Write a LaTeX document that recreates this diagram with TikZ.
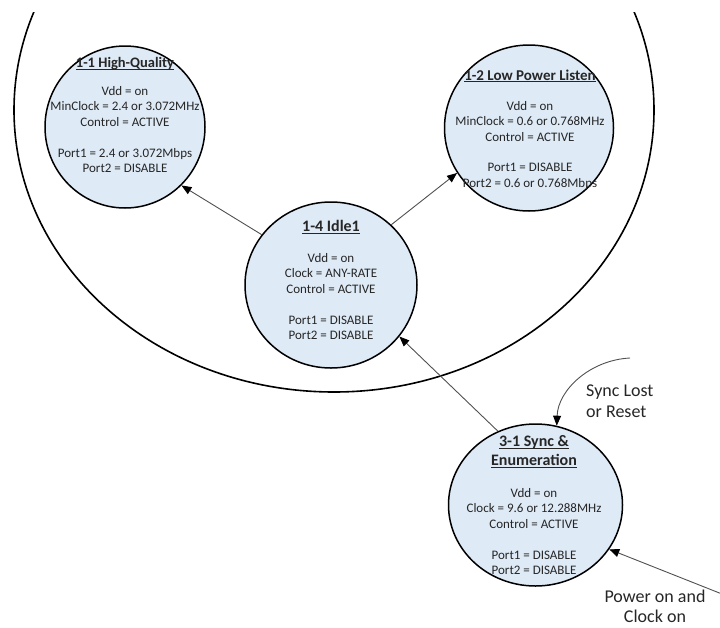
\documentclass[tikz,border=0pt]{standalone}
\usepackage{fontspec}
\setmainfont{Carlito}
\usetikzlibrary{shapes.geometric,arrows.meta}
\definecolor{statefill}{HTML}{DEEAF6}
\definecolor{txt}{HTML}{262626}
\definecolor{connc}{HTML}{505050}
\newsavebox{\tulbox}
\newcommand{\titleul}[2]{{\fontsize{#1}{#1}\selectfont\bfseries\sbox{\tulbox}{#2}\rlap{\rule[-2.2pt]{\wd\tulbox}{1.1pt}}\usebox{\tulbox}}}
\begin{document}
\begin{tikzpicture}[x=1pt,y=-1pt,
  state/.style={draw=black, line width=1.5pt, fill=statefill, ellipse, inner sep=0pt},
  stext/.style={align=center, text=txt, font=\fontsize{13}{15.4}\selectfont, inner sep=0pt},
  conn/.style={draw=connc, line width=0.9pt, -{Triangle[length=10pt,width=8pt,color=black]}},
  lbl/.style={text=txt, font=\fontsize{18}{21}\selectfont, inner sep=0pt},
  group/.style={draw=black, line width=1.6pt, ellipse, inner sep=0pt}
]
\useasboundingbox (0,0) rectangle (720,627);
\begin{scope}
  \clip (0,12) rectangle (720,627);
  \node[group, minimum width=640pt, minimum height=564pt] (grp) at (334,110) {};
\end{scope}

\node[state, minimum width=160pt, minimum height=162pt] (hq) at (125,127) {};
\node[state, minimum width=169pt, minimum height=166pt] (lp) at (529,128) {};
\node[state, minimum width=172pt, minimum height=166pt] (idle) at (331,285) {};
\node[state, minimum width=174pt, minimum height=162pt] (sync) at (535.5,505) {};

\node[stext] (hqt) at (125,115) {\titleul{14.5pt}{1-1 High-Quality}\\[12.6pt]
  Vdd = on\\ MinClock = 2.4 or 3.072MHz\\ Control = ACTIVE\\[15.4pt]
  Port1 = 2.4 or 3.072Mbps\\ Port2 = DISABLE};
\node[stext] (lpt) at (530,129.5) {\titleul{15pt}{1-2 Low Power Listen}\\[14.6pt]
  Vdd = on\\ MinClock = 0.6 or 0.768MHz\\ Control = ACTIVE\\[15.4pt]
  Port1 = DISABLE\\ Port2 = 0.6 or 0.768Mbps};
\node[stext] (idlet) at (331,280) {\titleul{16pt}{1-4 Idle1}\\[15.6pt]
  Vdd = on\\ Clock = ANY-RATE\\ Control = ACTIVE\\[15.4pt]
  Port1 = DISABLE\\ Port2 = DISABLE};
\node[stext] (synct) at (534,505) {\titleul{16pt}{3-1 Sync \&}\\[3.6pt]
  \titleul{16pt}{Enumeration}\\[16.6pt]
  Vdd = on\\ Clock = 9.6 or 12.288MHz\\ Control = ACTIVE\\[15.4pt]
  Port1 = DISABLE\\ Port2 = DISABLE};

\draw[conn] (idle.144.8) -- (hq.-46);
\draw[conn] (idle.45.5) -- (lp.-148.5);
\draw[conn] (sync.117.8) -- (idle.-37.5);

\coordinate (slstart) at (630,358);
\draw[conn] (slstart) .. controls (590,360) and (558,390) .. (sync.75);
\coordinate (pwstart) at (722,594);
\draw[conn] (pwstart) -- (sync.-31);

\node[lbl, anchor=base west] (sl1) at (586,396) {Sync Lost};
\node[lbl, anchor=base west] (sl2) at (586,417) {or Reset};
\node[lbl, anchor=base] (pw1) at (655,602) {Power on and};
\node[lbl, anchor=base] (pw2) at (655,622) {Clock on};
\end{tikzpicture}
\end{document}
